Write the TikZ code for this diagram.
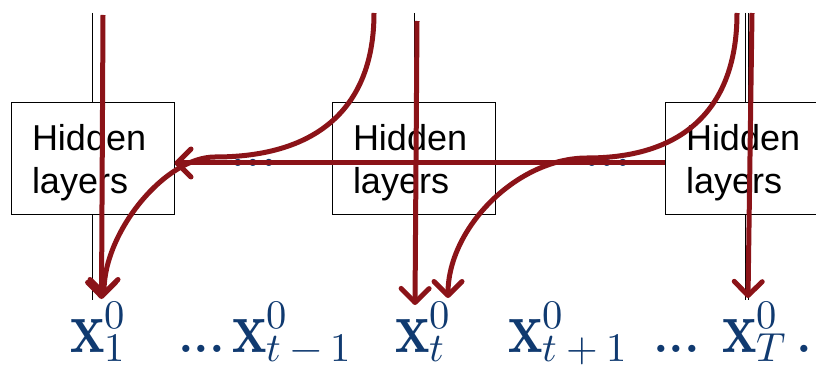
\documentclass[tikz,border=0pt]{standalone}
\usepackage{unicode-math}
\setmathfont{Latin Modern Math}
\newfontfamily\arialf{Liberation Sans}
\usetikzlibrary{arrows.meta}
\definecolor{dred}{RGB}{139,19,24}
\definecolor{nblue}{RGB}{16,58,112}
\newcommand{\xlab}[2]{\scalebox{1}[1.28]{$\mathbf{x}$}\rlap{\raisebox{24pt}{$\scriptstyle #2$}}\raisebox{-9.5pt}{$\scriptstyle #1$}}
\newcommand{\hltext}{\rule{0pt}{33.8pt}Hidden\\layers}
\begin{document}
\begin{tikzpicture}[x=1pt,y=-1pt,
  hl/.style={draw=black, line width=1pt, fill=white, minimum width=163pt,
    minimum height=111pt, inner xsep=21pt, inner ysep=0pt, text width=121pt,
    align=left, font=\arialf\fontsize{36}{43}\selectfont},
  rl/.style={draw=dred, line width=5pt},
  arr/.style={-{Straight Barb[length=14pt,width=28pt,line cap=round,line join=round]}},
  th/.style={draw=black, line width=0.9pt},
  lab/.style={anchor=base west, inner sep=0pt, text=nblue, font=\fontsize{58}{58}\selectfont},
  dots/.style={anchor=base west, inner sep=0pt, text=nblue, font=\fontsize{50}{50}\selectfont\bfseries}]
\clip (0,0) rectangle (816,366);
% thin black guide lines
\coordinate (g1t) at (92.3,13);  \coordinate (g1b) at (92.3,300);
\coordinate (g2t) at (414,13);   \coordinate (g2b) at (414,103);
\coordinate (g3t) at (745.6,13); \coordinate (g3b) at (745.6,300);
\coordinate (g4t) at (748,13);   \coordinate (g4b) at (748,300);
\draw[th] (g1t) -- (g1b);
\draw[th] (g2t) -- (g2b);
\draw[th] (g3t) -- (g3b);
\draw[th] (g4t) -- (g4b);
% boxes
\node[hl] (L) at (92.5,158.5) {\hltext};
\node[hl] (M) at (413.5,158.5) {\hltext};
\node[hl] (R) at (746.5,158.5) {\hltext};
% dots hidden behind the arrow
\node[dots] (d1) at (230,167) {...};
\node[dots] (d2) at (584,167) {...};
% labels
\node[lab] (x1) at (70,352) {\xlab{1}{0}};
\node[dots] (e1) at (178,352) {...};
\node[lab] (xtm) at (232,352) {\xlab{t\mkern4mu-\mkern4mu1}{0}};
\node[lab] (xt) at (395,352) {\xlab{t}{0}};
\node[lab] (xtp) at (508,352) {\xlab{t\mkern4mu+\mkern4mu1}{0}};
\node[dots] (e2) at (653,352) {...};
\node[lab] (xT) at (722,352) {\xlab{T}{0}};
\node[dots] (e3) at (796,352) {.};
% red connectors
\coordinate (t1) at (103,15);  \coordinate (b1) at (101.5,299);
\coordinate (t2) at (417,21);  \coordinate (b2) at (415,305);
\coordinate (t3) at (752,13);  \coordinate (b3) at (748,298);
\coordinate (cA) at (737,13);  \coordinate (mA) at (587,158); \coordinate (eA) at (448,298);
\coordinate (cB) at (374,13);  \coordinate (mB) at (215,157); \coordinate (eB) at (104,296);
\draw[rl,arr] (t1) -- (b1);
\draw[rl,arr] (t2) -- (b2);
\draw[rl,arr] (t3) -- (b3);
\draw[rl,arr] ([yshift=-4.5pt]R.west) -- ([yshift=-4.5pt]L.east);
\draw[rl,arr] (cA) .. controls (737,107) and (685,158) .. (mA)
   .. controls (517,158) and (448,228) .. (eA);
\draw[rl,arr] (cB) .. controls (374,107) and (318,157) .. (mB)
   .. controls (165,157) and (104,232) .. (eB);
\end{tikzpicture}
\end{document}
